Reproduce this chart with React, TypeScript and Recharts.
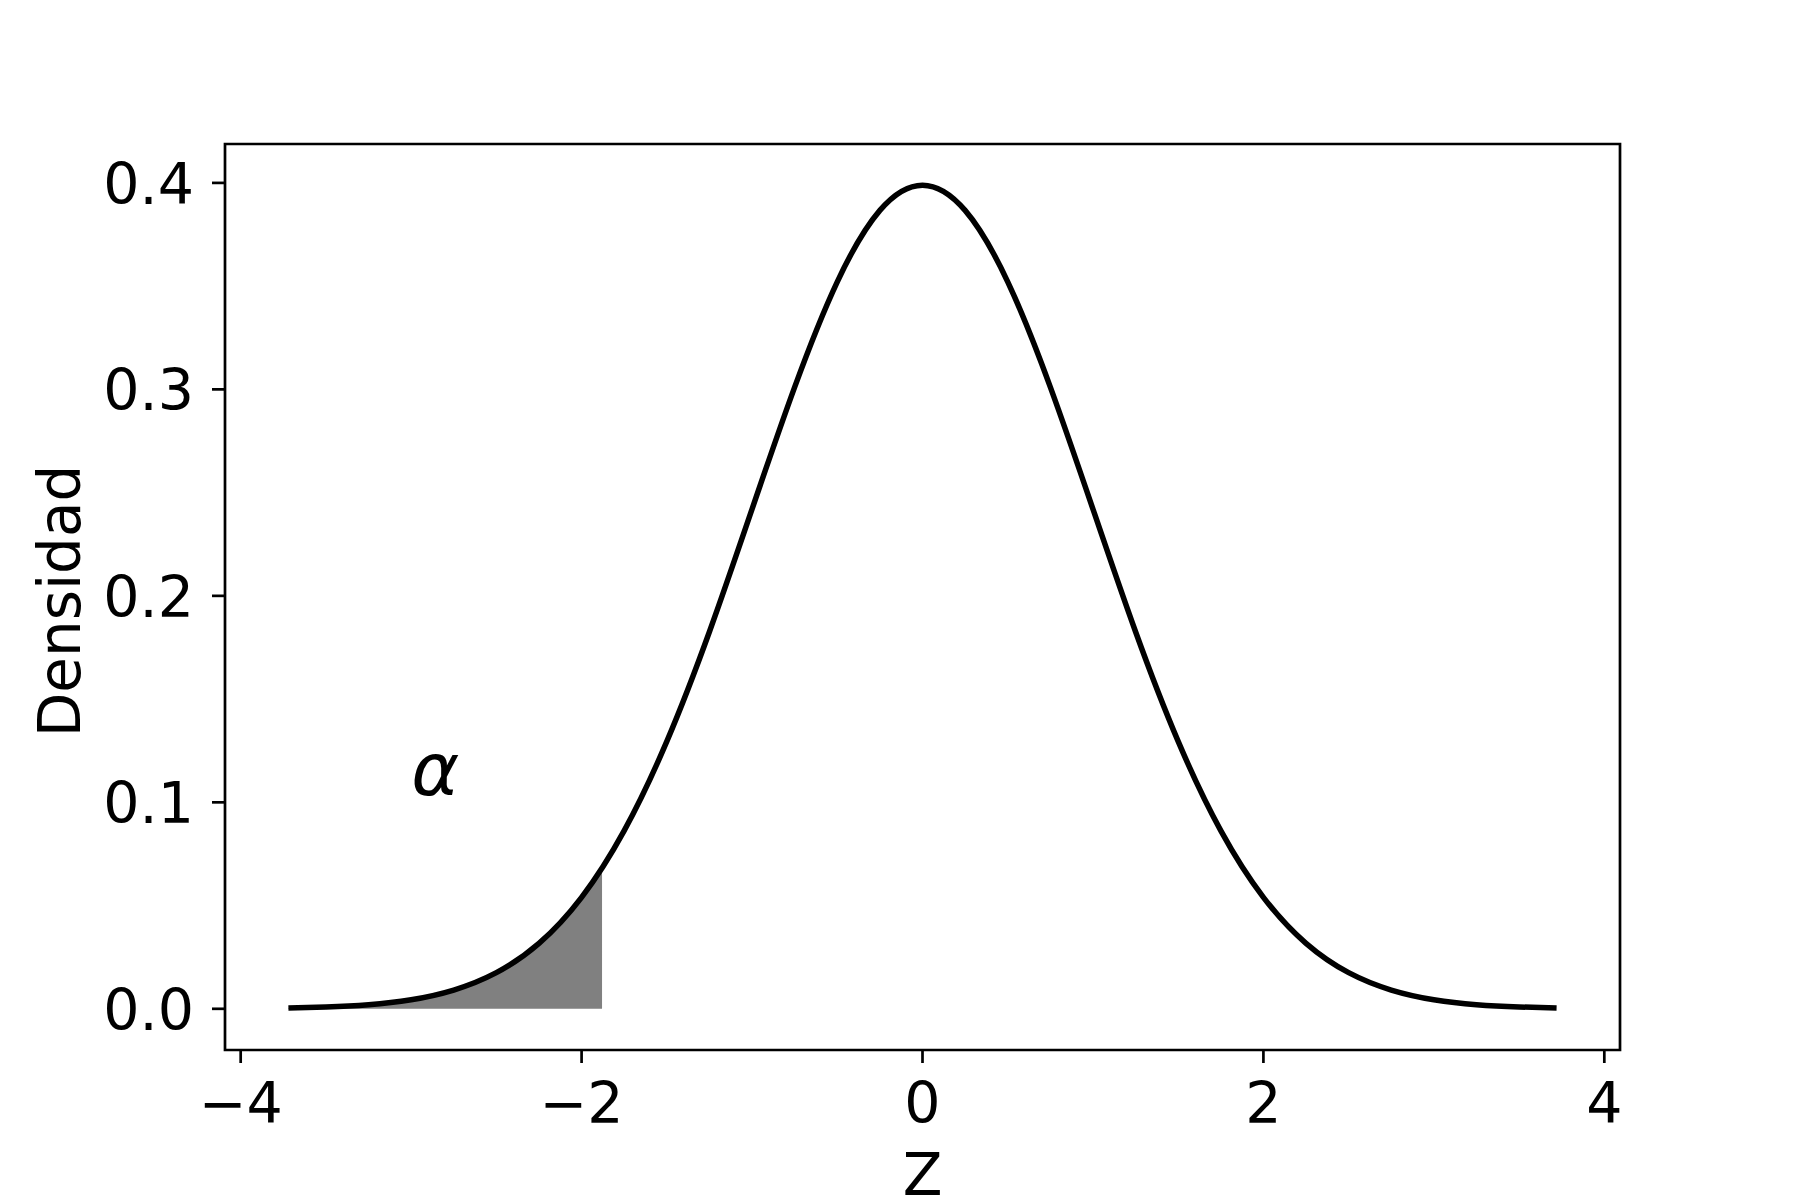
import React from 'react';
import { ComposedChart, Line, Area, XAxis, YAxis, ReferenceArea, ReferenceDot } from 'recharts';

// Curve points (standard normal density)
const zValues = [-3.72, -3.5, -3.25, -3.0, -2.75, -2.5, -2.25, -2.0, -1.75, -1.5, -1.25, -1.0, -0.75, -0.5, -0.25, 0,
  0.25, 0.5, 0.75, 1.0, 1.25, 1.5, 1.75, 2.0, 2.25, 2.5, 2.75, 3.0, 3.25, 3.5, 3.72];
const densityValues = [0.0004, 0.0009, 0.002, 0.0044, 0.0091, 0.0175, 0.0317, 0.054, 0.0863, 0.1295, 0.1826, 0.242, 0.3011, 0.3521, 0.3867, 0.3989,
  0.3867, 0.3521, 0.3011, 0.242, 0.1826, 0.1295, 0.0863, 0.054, 0.0317, 0.0175, 0.0091, 0.0044, 0.002, 0.0009, 0.0004];

// Shaded left tail (up to the critical value)
const tailZ = [-3.72, -3.5, -3.25, -3.0, -2.75, -2.5, -2.25, -2.0, -1.88];
const tailDensity = [0.0004, 0.0009, 0.002, 0.0044, 0.0091, 0.0175, 0.0317, 0.054, 0.0681];

const xTicks = [-4, -2, 0, 2, 4];
const yTicks = [0.0, 0.1, 0.2, 0.3, 0.4];
const xDomain: [number, number] = [-4.092, 4.092];
const yDomain: [number, number] = [-0.01995, 0.41884];
const alphaPos = { z: -3, d: 0.1 };

const curveData = zValues.map((z, i) => ({ z, d: densityValues[i] }));
const tailData = tailZ.map((z, i) => ({ z, d: tailDensity[i] }));

const FONT = 'DejaVu Sans';

const XTick = (props: any) => {
  const { x, y, payload } = props;
  const v = payload.value as number;
  const s = v < 0 ? '\u2212' + Math.abs(v) : String(v);
  return (
    <text x={x} y={y + 60} textAnchor="middle" fontFamily={FONT} fontSize={57} fill="#000">
      {s}
    </text>
  );
};

const YTick = (props: any) => {
  const { x, y, payload } = props;
  return (
    <text x={x - 18} y={y + 21} textAnchor="end" fontFamily={FONT} fontSize={57} fill="#000">
      {(payload.value as number).toFixed(1)}
    </text>
  );
};

export default function App() {
  return (
    <div style={{ position: 'absolute', left: 0, top: 0, width: 1800, height: 1200, background: '#fff' }}>
      <ComposedChart
        width={1800}
        height={1200}
        margin={{ top: 144, right: 180, bottom: 0, left: 0 }}
      >
        <XAxis
          type="number"
          dataKey="z"
          domain={xDomain}
          ticks={xTicks}
          allowDataOverflow
          height={150}
          axisLine={false}
          tickLine={{ stroke: '#000', strokeWidth: 2.7 }}
          tickSize={13}
          tickMargin={0}
          tick={<XTick />}
          label={(p: any) => {
            const vb = p.viewBox;
            return (
              <text x={vb.x + vb.width / 2} y={vb.y + 145} textAnchor="middle" fontFamily={FONT} fontSize={58} fill="#000">
                Z
              </text>
            );
          }}
        />
        <YAxis
          type="number"
          dataKey="d"
          domain={yDomain}
          ticks={yTicks}
          allowDataOverflow
          width={225}
          axisLine={false}
          tickLine={{ stroke: '#000', strokeWidth: 2.7 }}
          tickSize={13}
          tickMargin={0}
          tick={<YTick />}
          label={(p: any) => {
            const vb = p.viewBox;
            const cx = 80;
            const cy = vb.y + vb.height / 2 + 4;
            return (
              <text x={cx} y={cy} textAnchor="middle" transform={`rotate(-90, ${cx}, ${cy})`} fontFamily={FONT} fontSize={58} fill="#000">
                Densidad
              </text>
            );
          }}
        />
        <Area
          data={tailData}
          dataKey="d"
          type="natural"
          baseValue={0}
          fill="#808080"
          fillOpacity={1}
          stroke="none"
          isAnimationActive={false}
          dot={false}
          activeDot={false}
        />
        <Line
          data={curveData}
          dataKey="d"
          type="natural"
          stroke="#000"
          strokeWidth={5.5}
          dot={false}
          activeDot={false}
          isAnimationActive={false}
        />
        <ReferenceDot
          x={alphaPos.z}
          y={alphaPos.d}
          r={1}
          fill="none"
          stroke="none"
          label={(p: any) => {
            const vb = p.viewBox;
            return (
              <text x={vb.x + 1} y={vb.y - 6} fontFamily={FONT} fontStyle="italic" fontSize={73} fill="#000">
                α
              </text>
            );
          }}
        />
        <ReferenceArea
          x1={xDomain[0]}
          x2={xDomain[1]}
          y1={yDomain[0]}
          y2={yDomain[1]}
          fill="none"
          stroke="#000"
          strokeWidth={2.7}
          ifOverflow="visible"
        />
      </ComposedChart>
    </div>
  );
}
